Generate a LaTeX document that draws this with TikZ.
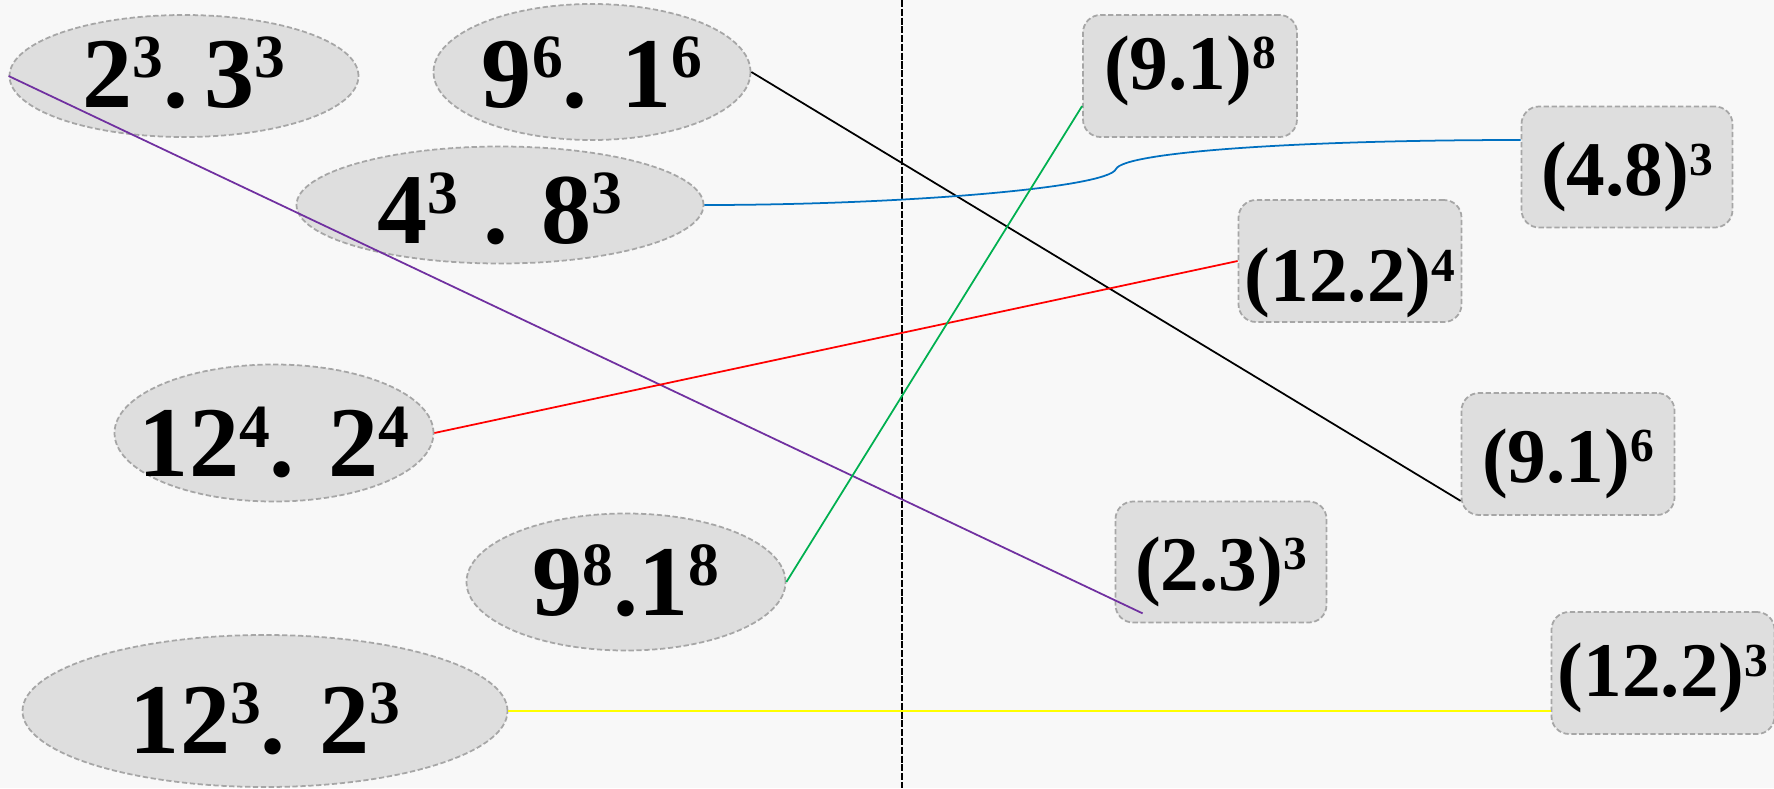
\documentclass[tikz,border=0pt]{standalone}
\usepackage{fontspec}
\setmainfont{Liberation Serif}
\usepackage{xcolor}
\usetikzlibrary{shapes.geometric, calc}
\definecolor{paper}{HTML}{F8F8F8}
\definecolor{shade}{HTML}{DEDEDE}
\definecolor{rim}{HTML}{A6A6A6}
\definecolor{plum}{HTML}{7030A0}
\definecolor{ocean}{HTML}{0070C0}
\definecolor{leaf}{HTML}{00B050}
\definecolor{lemon}{HTML}{FFFF00}
\newdimen\px \px=0.02cm
% raised exponents: ellipse size and box size
\newcommand{\epw}[1]{\raisebox{17pt}{\fontsize{35}{35}\selectfont #1}}
\newcommand{\bpw}[1]{\raisebox{11.5pt}{\fontsize{27}{27}\selectfont #1}}

\begin{document}
\begin{tikzpicture}[x=0.02cm, y=-0.02cm,
  prod/.style={ellipse, draw=rim, fill=shade, line width=1pt,
    dash pattern=on 3pt off 1.5pt, inner ysep=0pt, inner xsep=-40\px,
    text height=40pt, text depth=0pt,
    font=\fontsize{57}{60}\selectfont\bfseries},
  pow/.style={rectangle, rounded corners=10pt, draw=rim, fill=shade,
    line width=1pt, dash pattern=on 3pt off 1.5pt, inner sep=0pt,
    text height=32pt, text depth=0pt,
    font=\fontsize{44}{48}\selectfont\bfseries},
  link/.style={line width=1pt}]

%--- Page background
\fill[paper] (0,0) rectangle (1774,788);
\useasboundingbox (0,0) rectangle (1774,788);

%--- Dashed divider
\draw[black, line width=1pt, dash pattern=on 4pt off 1pt] (902,0) -- (902,788);

%=== LEFT: products (ellipses) ===
\node[prod, minimum width=349\px, minimum height=122\px, text height=36pt] (e23) at (184,76) {2\epw{3}.\,3\epw{3}};
\node[prod, minimum width=317\px, minimum height=136\px] (e96) at (592,72) {9\epw{6}. 1\epw{6}};
\node[prod, minimum width=407\px, minimum height=117\px, text height=44pt] (e43) at (500,205) {4\epw{3} . 8\epw{3}};
\node[prod, minimum width=319\px, minimum height=137\px, text height=50pt] (e124) at (274,433) {12\epw{4}. 2\epw{4}};
\node[prod, minimum width=319\px, minimum height=137\px, text height=38pt] (e98) at (626,582) {9\epw{8}.1\epw{8}};
\node[prod, minimum width=485\px, minimum height=152\px, text height=48pt] (e123) at (265,711) {12\epw{3}. 2\epw{3}};

%=== RIGHT: powers (rounded boxes) ===
\node[pow, minimum width=214\px, minimum height=122\px, text height=15pt] (b91e8) at (1190,76) {(9.1)\bpw{8}};
\node[pow, minimum width=211\px, minimum height=121\px, text height=33pt] (b48) at (1627,167) {(4.8)\bpw{3}};
\node[pow, minimum width=223\px, minimum height=122\px, text height=46pt] (b122e4) at (1350,261) {(12.2)\bpw{4}};
\node[pow, minimum width=213\px, minimum height=122\px] (b91e6) at (1568,454) {(9.1)\bpw{6}};
\node[pow, minimum width=211\px, minimum height=121\px] (b23) at (1221,562) {(2.3)\bpw{3}};
\node[pow, minimum width=223\px, minimum height=122\px, text height=27pt] (b122e3) at (1663,673) {(12.2)\bpw{3}};

%--- Matching lines
\coordinate (kink) at (1116,169);
\draw[link, plum]  (e23.west) -- ([shift={(28,-10)}]b23.south west);
\draw[link, black] (e96.east) -- ([yshift=15\px]b91e6.south west);
\draw[link, ocean] (e43.east) .. controls (900,205) and (1108,188) .. (kink)
                   .. controls (1124,152) and (1300,140) .. ([yshift=27\px]b48.west);
\draw[link, red]   (e124.east) -- (b122e4.west);
\draw[link, leaf]  (e98.east) -- ([yshift=-30\px]b91e8.west);
\draw[link, lemon] (e123.east) -- (e123.east -| b122e3.west);

\end{tikzpicture}
\end{document}
